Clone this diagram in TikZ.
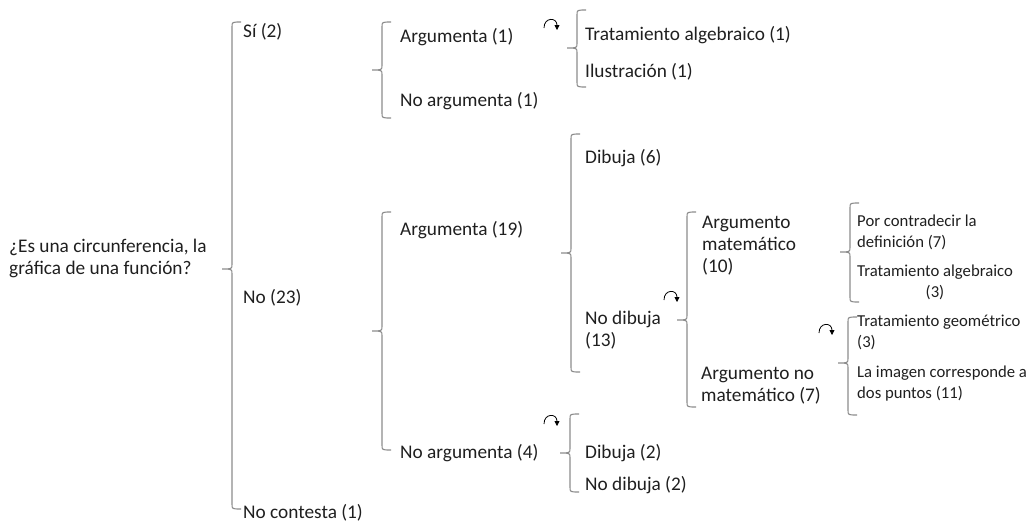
\documentclass[tikz,border=0pt]{standalone}
\usepackage{fontspec}
\setmainfont{Carlito}
\usetikzlibrary{arrows.meta}
% left curly bracket: x, top, middle tick, bottom
\newcommand\bracepath[4]{%
  \draw[bracket] (#1+9,#2) .. controls (#1,#2) .. (#1,#2+5) -- (#1,#3-5)
    .. controls (#1,#3) .. (#1-10,#3) .. controls (#1,#3) .. (#1,#3+5)
    -- (#1,#4-5) .. controls (#1,#4) .. (#1+9,#4);}
% small curved arrow: start x, start y, end x, end y
\newcommand\turnarrow[4]{%
  \draw[turn] (#1,#2) .. controls (#1,#2-11) and (#3,#2-11) .. (#3,#4);}
\begin{document}
\begin{tikzpicture}[x=1pt,y=-1pt,
  lbl/.style={anchor=west, inner sep=0pt, align=left,
    font=\fontsize{19.3}{22}\selectfont, text=black!88},
  sml/.style={lbl, font=\fontsize{16.7}{21}\selectfont},
  bracket/.style={draw=black!45, line width=1.1pt},
  turn/.style={draw=black, line width=0.8pt, -{Triangle[length=5pt,width=5pt]}}]
\useasboundingbox (0,0) rectangle (1034,525);

% first level
\node[lbl] (root) at (9,258) {¿Es una circunferencia, la\\gráfica de una función?};
\node[lbl] (si) at (243,32) {Sí (2)};
\node[lbl] (no) at (243,298) {No (23)};
\node[lbl] (nocont) at (243,513) {No contesta (1)};
\bracepath{232}{22}{269}{509}

% branch "Sí"
\node[lbl] (arg1) at (400,37) {Argumenta (1)};
\node[lbl] (noarg1) at (400,101) {No argumenta (1)};
\bracepath{382}{22}{70}{118}
\node[lbl] (trat1) at (585,35) {Tratamiento algebraico (1)};
\node[lbl] (ilus) at (585,72) {Ilustración (1)};
\bracepath{577}{10}{48}{87}
\turnarrow{544}{28}{557}{30}

% branch "No"
\node[lbl] (arg19) at (400,230) {Argumenta (19)};
\node[lbl] (noarg4) at (400,453) {No argumenta (4)};
\bracepath{382}{212}{331}{450}

\node[lbl] (dib6) at (585,158) {Dibuja (6)};
\node[lbl] (nodib13) at (585,330) {No dibuja\\(13)};
\bracepath{571}{134}{253}{372}
\turnarrow{664}{300}{677}{302}

\node[lbl] (argmat) at (702,246) {Argumento\\matemático\\(10)};
\node[lbl] (argnomat) at (701,386) {Argumento no\\matemático (7)};
\bracepath{687}{212}{320}{407}

\node[sml] (contr) at (857,232) {Por contradecir la\\definición (7)};
\node[sml, align=center] (tratalg) at (857,282) {Tratamiento algebraico\\(3)};
\bracepath{850}{203}{252}{302}

\node[sml] (tratgeo) at (857,332) {Tratamiento geométrico\\(3)};
\node[sml] (imagen) at (857,384) {La imagen corresponde a\\dos puntos (11)};
\bracepath{848}{317}{363}{415}
\turnarrow{819}{333}{832}{335}

\node[lbl] (dib2) at (585,453) {Dibuja (2)};
\node[lbl] (nodib2) at (585,485) {No dibuja (2)};
\bracepath{570}{414}{453}{492}
\turnarrow{544}{424}{557}{426}
\end{tikzpicture}
\end{document}
